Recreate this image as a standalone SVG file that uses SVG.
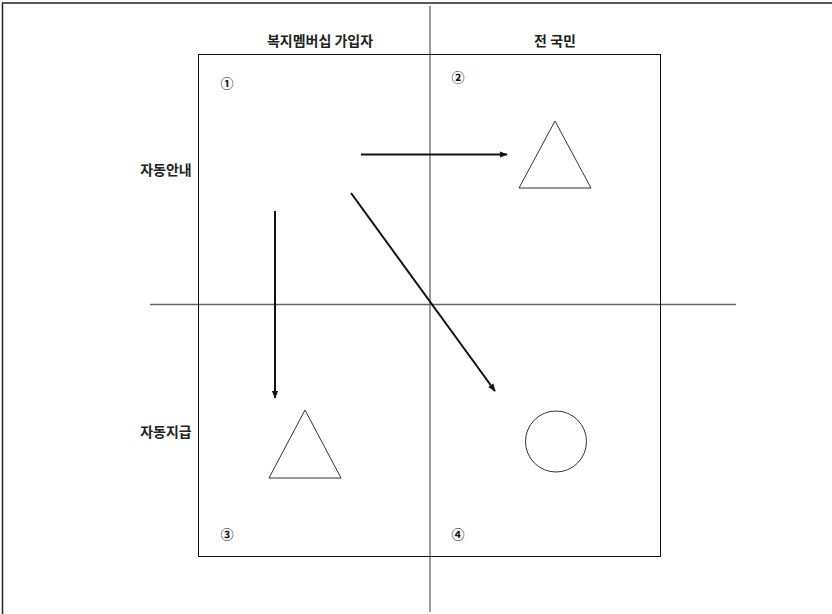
<svg xmlns="http://www.w3.org/2000/svg" width="832" height="614" viewBox="0 0 832 614">
<style>
.frame{fill:none;stroke:#222;stroke-width:1.5}
.axis{fill:none;stroke:#666;stroke-width:1.3}
.box{fill:none;stroke:#111;stroke-width:1}
.shape{fill:none;stroke:#333;stroke-width:1}
.arrow{fill:none;stroke:#111;stroke-width:2;marker-end:url(#ah)}
.lbl{font-family:"Noto Sans CJK KR","Noto Sans",sans-serif;font-size:14px;font-weight:bold;fill:#222}
.num{font-family:"Noto Sans CJK KR","DejaVu Sans",sans-serif;font-size:13px;font-weight:bold;fill:#111}
</style>
<defs>
<marker id="ah" viewBox="0 0 10 10" refX="9" refY="5" markerWidth="4" markerHeight="4" orient="auto" markerUnits="strokeWidth">
<path d="M0,1 L10,5 L0,9 z" fill="#111"/>
</marker>
</defs>
<rect width="832" height="614" fill="#fff"/>
<path class="frame" d="M2.5,614 V3 H832"/>
<g id="axes">
<line class="axis" x1="430" y1="6" x2="430" y2="612"/>
<line class="axis" x1="150" y1="304.5" x2="736" y2="304.5"/>
</g>
<g id="box"><rect class="box" x="198.5" y="54.5" width="462" height="502"/></g>
<g id="headers">
<text class="lbl" x="320" y="46" text-anchor="middle">복지멤버십 가입자</text>
<text class="lbl" x="555" y="46" text-anchor="middle">전 국민</text>
<text class="lbl" x="166" y="175" text-anchor="middle">자동안내</text>
<text class="lbl" x="166" y="437" text-anchor="middle">자동지급</text>
</g>
<g id="q1"><text class="num" x="227" y="88" text-anchor="middle">①</text></g>
<g id="q2"><text class="num" x="458" y="82" text-anchor="middle">②</text>
<polygon class="shape" points="555,121 519,188 591,188"/></g>
<g id="q3"><text class="num" x="227" y="539" text-anchor="middle">③</text>
<polygon class="shape" points="305,410 269,478 341,478"/></g>
<g id="q4"><text class="num" x="458" y="539" text-anchor="middle">④</text>
<circle class="shape" cx="556" cy="441.5" r="30.5"/></g>
<g id="connectors">
<line class="arrow" x1="361" y1="154.5" x2="507" y2="154.5"/>
<line class="arrow" x1="275" y1="211" x2="275" y2="398"/>
<line class="arrow" x1="351" y1="193" x2="495" y2="391"/>
</g>
</svg>
